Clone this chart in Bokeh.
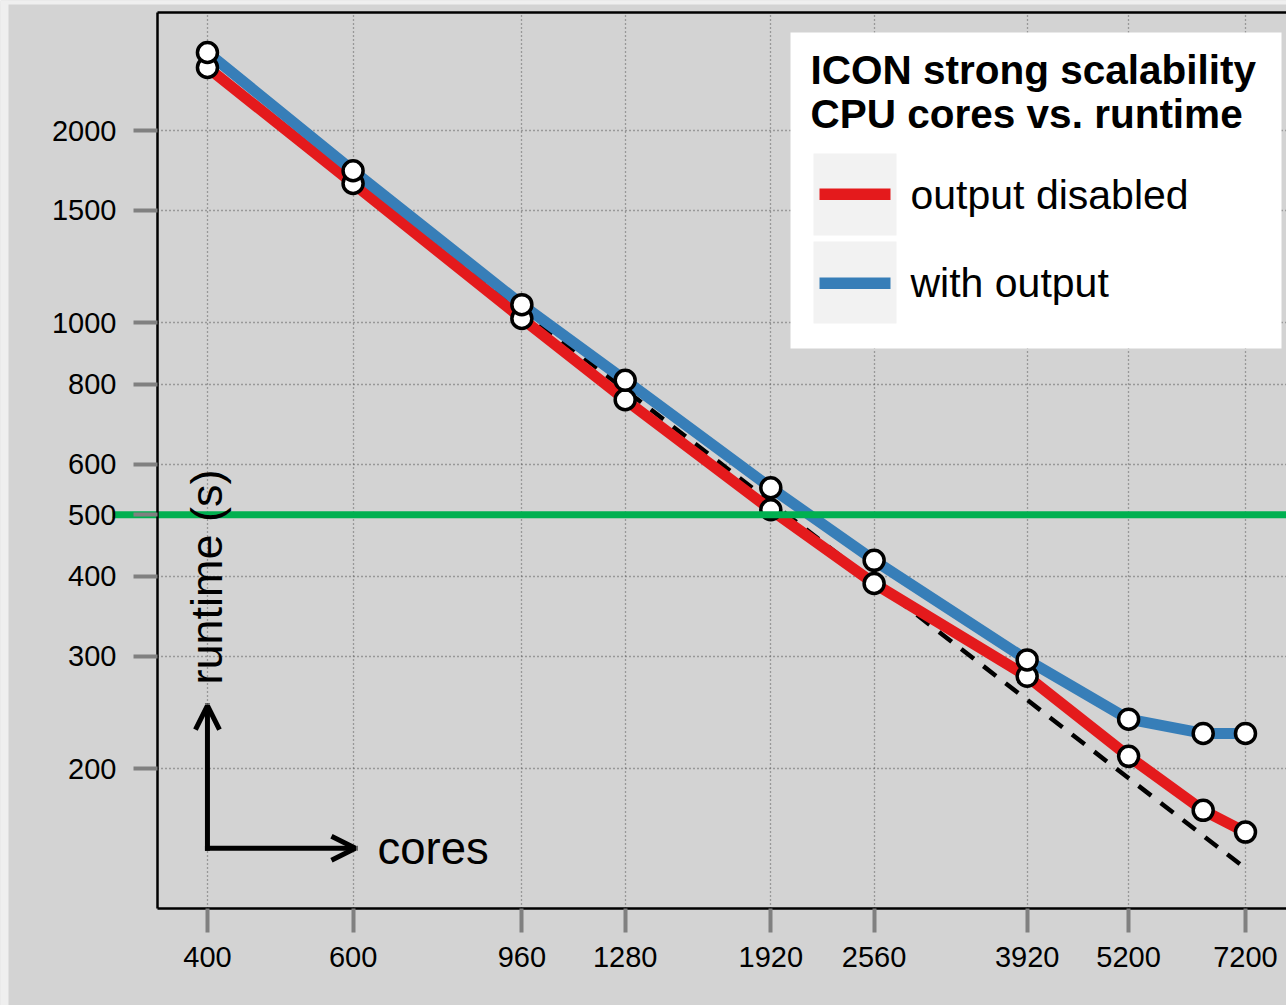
import math
from bokeh.plotting import figure
from bokeh.models import (Range1d, FixedTicker, PrintfTickFormatter, BoxAnnotation,
                          Label, Arrow, OpenHead, LogAxis)
from bokeh.embed import file_html
from bokeh.resources import INLINE

# ---- data ----
cores = [400, 600, 960, 1280, 1920, 2560, 3920, 5200, 6400, 7200]
runtime_disabled = [2511, 1652, 1015, 757, 509, 390, 279, 209, 172, 159]
runtime_output = [2651, 1730, 1067, 812, 551, 424, 296, 239, 227, 227]
x_ticks = [400, 600, 960, 1280, 1920, 2560, 3920, 5200, 7200]
y_ticks = [200, 300, 400, 500, 600, 800, 1000, 1500, 2000]
threshold = 500
ideal_cores = [400, 7200]
ideal_runtime = [runtime_disabled[0] * cores[0] / c for c in ideal_cores]

title_lines = ["ICON strong scalability", "CPU cores vs. runtime"]
series_labels = ["output disabled", "with output"]

RED = "#e41a1c"
BLUE = "#377eb8"
GREEN = "#00b050"
BG = "#d3d3d3"
FONT = "Liberation Sans"

W, H = 1286, 1005
# visible data window (the whole canvas is the plotting frame)
X_START, X_END = 224.8, 8071
Y_START, Y_END = 85.04, 3198
# the boxed plotting region inside it
X_LEFT, Y_BOTTOM, Y_TOP = 348.0, 120.7, 3062


def x_at_px(px):
    a, b = math.log10(X_START), math.log10(X_END)
    return 10 ** (a + px / W * (b - a))


def sy(img_y):  # image y -> screen units (from bottom)
    return H - img_y


p = figure(width=W, height=H, x_axis_type="log", y_axis_type="log",
           x_range=Range1d(X_START, X_END), y_range=Range1d(Y_START, Y_END),
           output_backend="svg", toolbar_location=None,
           min_border_left=0, min_border_right=0, min_border_top=0, min_border_bottom=0)
p.background_fill_color = BG
p.border_fill_color = BG
p.outline_line_color = None


def box(l, t, r, b, color, level="overlay"):
    p.add_layout(BoxAnnotation(left=l, right=r, top=t, bottom=b,
                               left_units="canvas", right_units="canvas",
                               top_units="canvas", bottom_units="canvas",
                               fill_color=color, fill_alpha=1, line_color=None,
                               level=level))

# light page edge strips seen in the reference
box(0, 0, 8, H, "#efefef", "underlay")
box(0, 0, W, 4, "#efefef", "underlay")

xa, ya = p.xaxis[0], p.yaxis[0]
xa.fixed_location = Y_BOTTOM
xa.bounds = (X_LEFT, X_END)
ya.fixed_location = X_LEFT
ya.bounds = (Y_BOTTOM, Y_TOP)
for ax, ticks, standoff in ((xa, x_ticks, 15), (ya, y_ticks, 17)):
    ax.ticker = FixedTicker(ticks=ticks)
    ax.formatter = PrintfTickFormatter(format="%d")
    ax.major_tick_out = 24
    ax.major_tick_in = 0
    ax.minor_tick_out = 0
    ax.minor_tick_in = 0
    ax.major_tick_line_color = "#808080"
    ax.major_tick_line_width = 4
    ax.axis_line_color = "black"
    ax.axis_line_width = 2.5
    ax.major_label_text_font = FONT
    ax.major_label_text_font_size = "29px"
    ax.major_label_text_color = "black"
    ax.major_label_standoff = standoff

top_axis = LogAxis(fixed_location=Y_TOP, bounds=(X_LEFT, X_END), ticker=FixedTicker(ticks=[]),
                   axis_line_color="black", axis_line_width=2.5,
                   major_tick_out=0, minor_tick_out=0, major_label_text_font_size="0px")
p.add_layout(top_axis, "above")

p.xgrid[0].cross_bounds = (Y_BOTTOM, Y_TOP)
p.ygrid[0].cross_bounds = (X_LEFT, X_END)
for g in (p.xgrid[0], p.ygrid[0]):
    g.grid_line_color = "#5e5e5e"
    g.grid_line_dash = "1 3"
    g.grid_line_width = 1.3

# ideal scaling reference, measured series, markers
p.line(ideal_cores, ideal_runtime, line_color="black", line_width=4.5, line_dash="16 12")
p.line(cores, runtime_disabled, line_color=RED, line_width=11, line_join="round")
p.line(cores, runtime_output, line_color=BLUE, line_width=11, line_join="round")
p.scatter(cores, runtime_disabled, size=20, fill_color="white", line_color="black", line_width=3.5)
p.scatter(cores, runtime_output, size=20, fill_color="white", line_color="black", line_width=3.5)

# threshold line, reaching into the axis area
p.segment(x0=[x_at_px(112)], y0=[threshold], x1=[X_END], y1=[threshold],
          line_color=GREEN, line_width=7)

# axis hint arrows and labels
for xe, ye in ((604, 150), (400, 251)):
    p.add_layout(Arrow(x_start=400, y_start=150, x_end=xe, y_end=ye, line_width=5,
                       line_color="black", line_cap="square",
                       end=OpenHead(size=24, line_width=5, line_color="black")))
p.add_layout(Label(x=377, y=sy(864 - 0.35 * 45.5), x_units="screen", y_units="screen",
                   text="cores", text_font=FONT, text_font_size="45.5px",
                   text_color="black", text_baseline="alphabetic"))
p.add_layout(Label(x=222 - 0.35 * 45, y=sy(684), x_units="screen", y_units="screen",
                   text="runtime (s)", angle=math.pi / 2, text_font=FONT,
                   text_font_size="45px", text_color="black",
                   text_baseline="alphabetic", text_align="left"))

# legend box drawn by hand to match the boxed style
box(790, 32, 1281, 348, "white")
for i, col in enumerate([RED, BLUE]):
    t = 153 + i * 88
    box(813, t, 896, t + 82, "#f2f2f2")
    lt = 188 + i * 89
    box(819, lt, 890, lt + 11.5, col)
    p.add_layout(Label(x=910, y=sy(209 + i * 88 - 0.35 * 41), x_units="screen", y_units="screen",
                       text=series_labels[i], text_font=FONT, text_font_size="41px",
                       text_color="black", text_baseline="alphabetic", level="overlay"))
for i, t in enumerate(title_lines):
    p.add_layout(Label(x=810, y=sy(84 + i * 44 - 0.35 * 40.5), x_units="screen", y_units="screen",
                       text=t, text_font=FONT, text_font_size="40.5px", text_font_style="bold",
                       text_color="black", text_baseline="alphabetic", level="overlay"))

open("out.html", "w").write(file_html(p, INLINE))
